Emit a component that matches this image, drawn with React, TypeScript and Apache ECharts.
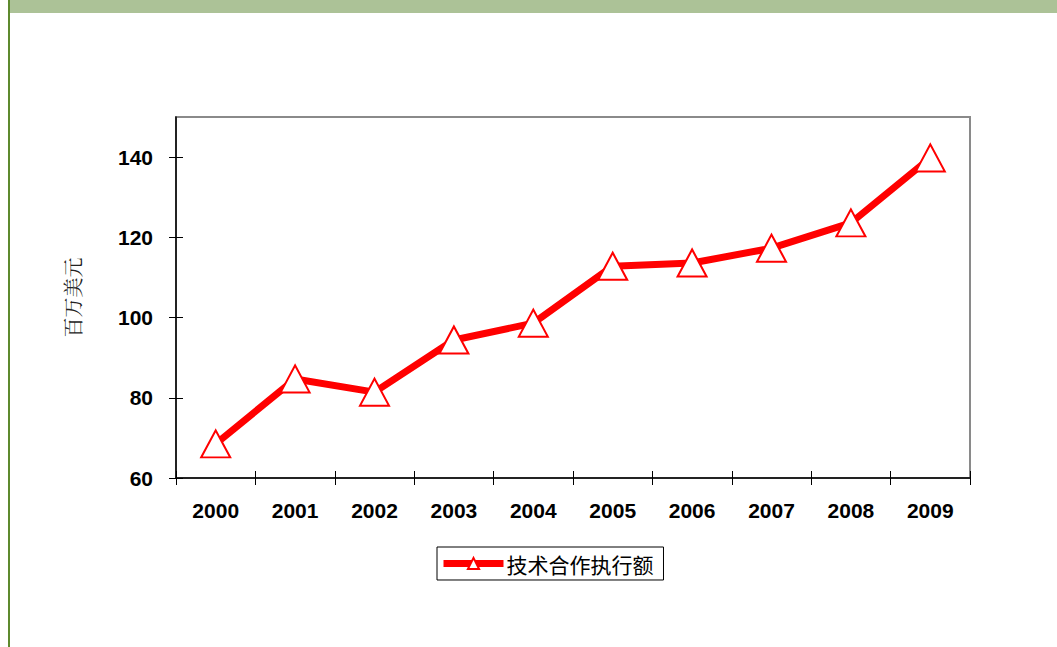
import React, { useEffect, useRef } from "react";
import * as echarts from "echarts";

const years = ["2000", "2001", "2002", "2003", "2004", "2005", "2006", "2007", "2008", "2009"];
const values = [68.5, 84.7, 81.4, 94.4, 98.6, 112.8, 113.6, 117.3, 123.6, 139.8];
const yTicks = [60, 80, 100, 120, 140];
const seriesName = "技术合作执行额";
const yAxisName = "百万美元";

export default function App() {
  const ref = useRef<HTMLDivElement>(null);
  useEffect(() => {
    const chart = echarts.init(ref.current!, null, { renderer: "svg" });
    const labelStyle = {
      fontFamily: "Liberation Sans",
      fontWeight: "bold",
      fontSize: 21,
      color: "#000",
    };
    chart.setOption({
      animation: false,
      backgroundColor: "#ffffff",
      graphic: [
        { type: "rect", shape: { x: 10, y: 0, width: 1047, height: 13 }, style: { fill: "#ACC297" }, z: 10 },
        { type: "rect", shape: { x: 8, y: 0, width: 2, height: 647 }, style: { fill: "#5E8A2E" }, z: 10 },
      ],
      grid: {
        left: 176,
        right: 87,
        top: 117,
        bottom: 169,
        show: true,
        borderColor: "#8a8a8a",
        borderWidth: 2,
        backgroundColor: "#ffffff",
      },
      legend: {
        left: 437,
        top: 547,
        padding: [6, 10, 6, 3],
        borderColor: "#000",
        borderWidth: 1,
        itemWidth: 60,
        itemHeight: 14,
        itemGap: 2,
        lineStyle: { width: 7, color: "#ff0000" },
        itemStyle: { color: "#ffffff", borderColor: "#ff0000", borderWidth: 2 },
        textStyle: { fontFamily: "Noto Sans CJK SC", fontSize: 21, color: "#000", padding: [0, 0, 0, -2] },
        data: [{ name: seriesName }],
      },
      xAxis: [
        {
          type: "category",
          data: years,
          boundaryGap: true,
          axisLine: { lineStyle: { color: "#000", width: 1.5 } },
          axisTick: { show: true, length: 7, lineStyle: { color: "#000" } },
          axisLabel: { margin: 22, ...labelStyle },
        },
        {
          type: "category",
          data: years,
          boundaryGap: true,
          position: "bottom",
          axisLine: { show: false },
          axisTick: { show: true, inside: true, length: 7, lineStyle: { color: "#000" } },
          axisLabel: { show: false },
        },
      ],
      yAxis: [
        {
          type: "value",
          min: 60,
          max: 150,
          interval: 20,
          name: yAxisName,
          nameLocation: "middle",
          nameRotate: 90,
          nameGap: 94,
          nameTextStyle: { fontFamily: "Noto Serif CJK SC, Noto Sans CJK SC", fontSize: 20, color: "#222" },
          splitLine: { show: false },
          axisLine: { show: true, lineStyle: { color: "#000", width: 1.5 } },
          axisTick: { show: true, length: 7, customValues: yTicks, lineStyle: { color: "#000" } },
          axisLabel: {
            margin: 23,
            showMaxLabel: false,
            ...labelStyle,
            formatter: (v: number) => (v === 150 ? "" : String(v)),
          },
        },
        {
          type: "value",
          min: 60,
          max: 150,
          interval: 20,
          position: "left",
          splitLine: { show: false },
          axisLine: { show: false },
          axisTick: { show: true, inside: true, length: 7, customValues: yTicks, lineStyle: { color: "#000" } },
          axisLabel: { show: false },
        },
      ],
      series: [
        {
          name: seriesName,
          type: "line",
          data: values,
          symbol: "triangle",
          symbolSize: [29, 27],
          lineStyle: { color: "#ff0000", width: 7 },
          itemStyle: { color: "#ffffff", borderColor: "#ff0000", borderWidth: 2 },
          z: 5,
        },
      ],
    });
    return () => chart.dispose();
  }, []);
  return (
    <div style={{ position: "fixed", left: 0, top: 0, width: 1057, height: 647 }}>
      <div ref={ref} style={{ width: 1057, height: 647 }} />
    </div>
  );
}
